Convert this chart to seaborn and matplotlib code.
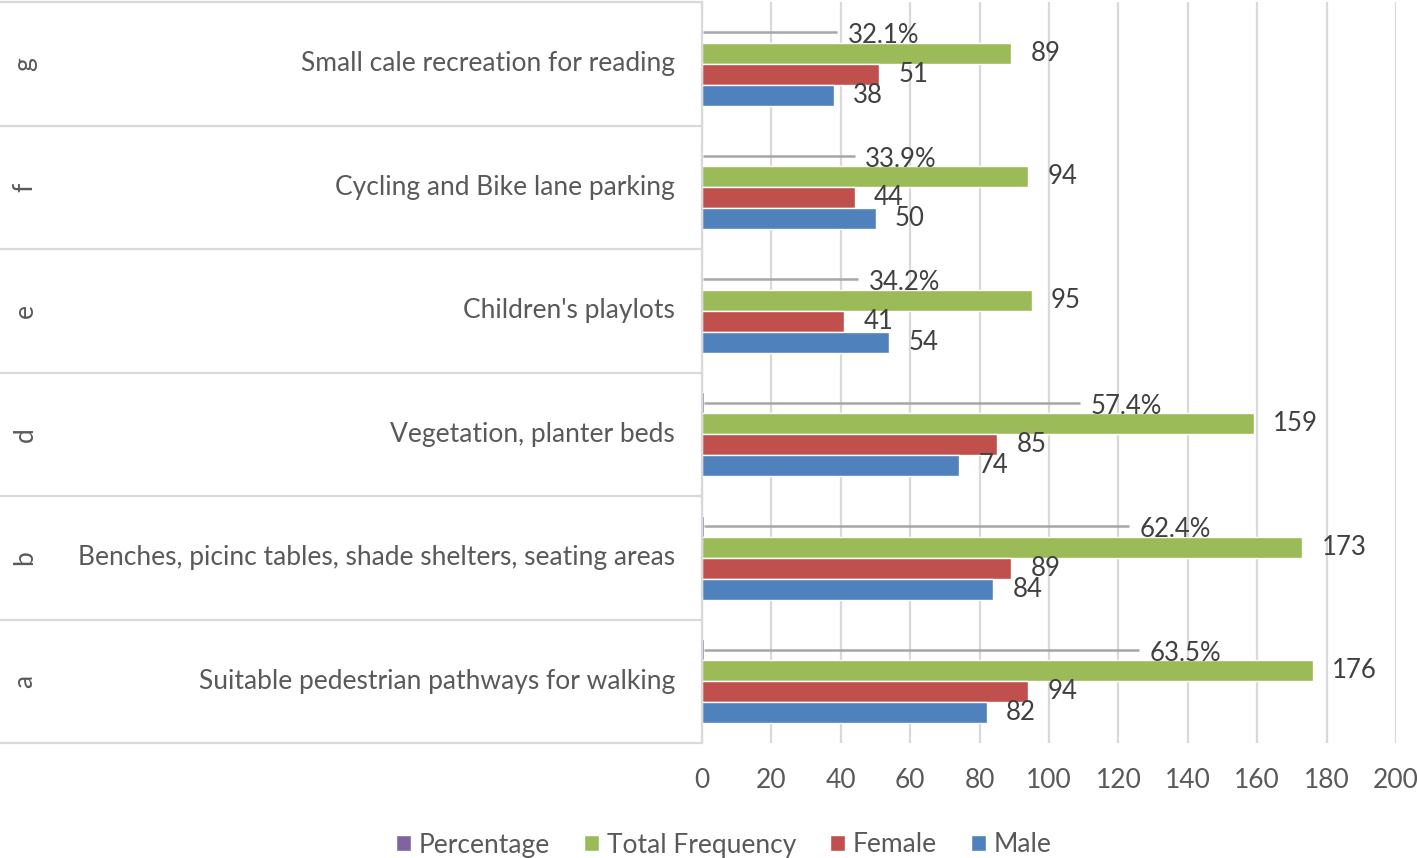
"""
Grouped horizontal bar chart of preferred park features by gender,
with a small table-like category axis on the left.
"""

import matplotlib.pyplot as plt
import pandas as pd
import seaborn as sns

codes = ['g', 'f', 'e', 'd', 'b', 'a']
features = ['Small cale recreation for reading',
            'Cycling and Bike lane parking',
            "Children's playlots",
            'Vegetation, planter beds',
            'Benches, picinc tables, shade shelters, seating areas',
            'Suitable pedestrian pathways for walking']
percentage = [32.1, 33.9, 34.2, 57.4, 62.4, 63.5]
total = [89, 94, 95, 159, 173, 176]
female = [51, 44, 41, 85, 89, 94]
male = [38, 50, 54, 74, 84, 82]

series = ['Percentage', 'Total Frequency', 'Female', 'Male']
colors = ['#8064A2', '#9BBB59', '#C0504D', '#4F81BD']
xticks = list(range(0, 201, 20))

FS = 19


def main():
    sns.set_theme(style='white')
    plt.rcParams['font.family'] = ['Lato', 'DejaVu Sans']

    rows = []
    for i, feat in enumerate(features):
        rows.append((feat, 'Percentage', percentage[i] / 100))
        rows.append((feat, 'Total Frequency', total[i]))
        rows.append((feat, 'Female', female[i]))
        rows.append((feat, 'Male', male[i]))
    df = pd.DataFrame(rows, columns=['feature', 'series', 'value'])

    fig = plt.figure(figsize=(14.17, 8.58), dpi=100)
    ax = fig.add_axes([702 / 1417, 1 - 743 / 858, 694 / 1417, 741 / 858])

    sns.barplot(data=df, y='feature', x='value', hue='series',
                order=features, hue_order=series, palette=colors,
                width=0.68, orient='h', ax=ax, saturation=1)

    ax.set_xlim(0, 200)
    ax.set_xticks(xticks)
    ax.grid(axis='x', color='#d9d9d9', lw=1.6)
    ax.set_axisbelow(True)
    ax.tick_params(axis='x', length=4, color='#d9d9d9', width=1.2,
                   labelsize=FS, labelcolor='#595959', pad=14)
    ax.tick_params(axis='y', left=False, labelleft=False)
    ax.set_xlabel('')
    ax.set_ylabel('')
    for s in ['top', 'right', 'bottom']:
        ax.spines[s].set_visible(False)
    ax.spines['left'].set_color('#d9d9d9')
    ax.spines['left'].set_linewidth(1.6)

    # data labels for the count series
    for cont in ax.containers[1:]:
        ax.bar_label(cont, padding=14, fontsize=FS - 0.5, color='#404040')

    # percentage labels sit away from the tiny bars, with leader lines
    for bar, pct, tot in zip(ax.containers[0], percentage, total):
        yc = bar.get_y() + bar.get_height() / 2
        x_end = tot - 50
        ax.plot([bar.get_width(), x_end], [yc, yc], color='#a6a6a6',
                lw=1.8, solid_capstyle='butt')
        ax.text(x_end + 3, yc + 0.03, f'{pct:.1f}%', fontsize=FS - 0.5,
                color='#404040', va='center', ha='left')

    # left-hand category table
    ytr = ax.get_yaxis_transform()
    left_edge = -702 / 694
    for i, (code, feat) in enumerate(zip(codes, features)):
        ax.text(-27 / 694, i, feat, transform=ytr, ha='right', va='center',
                fontsize=FS, color='#595959', clip_on=False)
        ax.text(left_edge + 25 / 694, i, code, transform=ytr, ha='center',
                va='center', rotation=90, fontsize=FS, color='#595959',
                clip_on=False)
    for b in range(len(features) + 1):
        ax.plot([left_edge, 0], [b - 0.5, b - 0.5], transform=ytr,
                color='#d9d9d9', lw=1.6, clip_on=False)
    ax.set_ylim(len(features) - 0.5, -0.5)

    sns.move_legend(ax, 'center', bbox_to_anchor=(724 / 1417, 1 - 845 / 858),
                    bbox_transform=fig.transFigure, ncol=4, frameon=False,
                    title=None, fontsize=FS, handlelength=0.55,
                    handleheight=0.55, handletextpad=0.3, columnspacing=1.3,
                    labelcolor='#595959')

    fig.savefig('out.png', dpi=100)


if __name__ == '__main__':
    main()
